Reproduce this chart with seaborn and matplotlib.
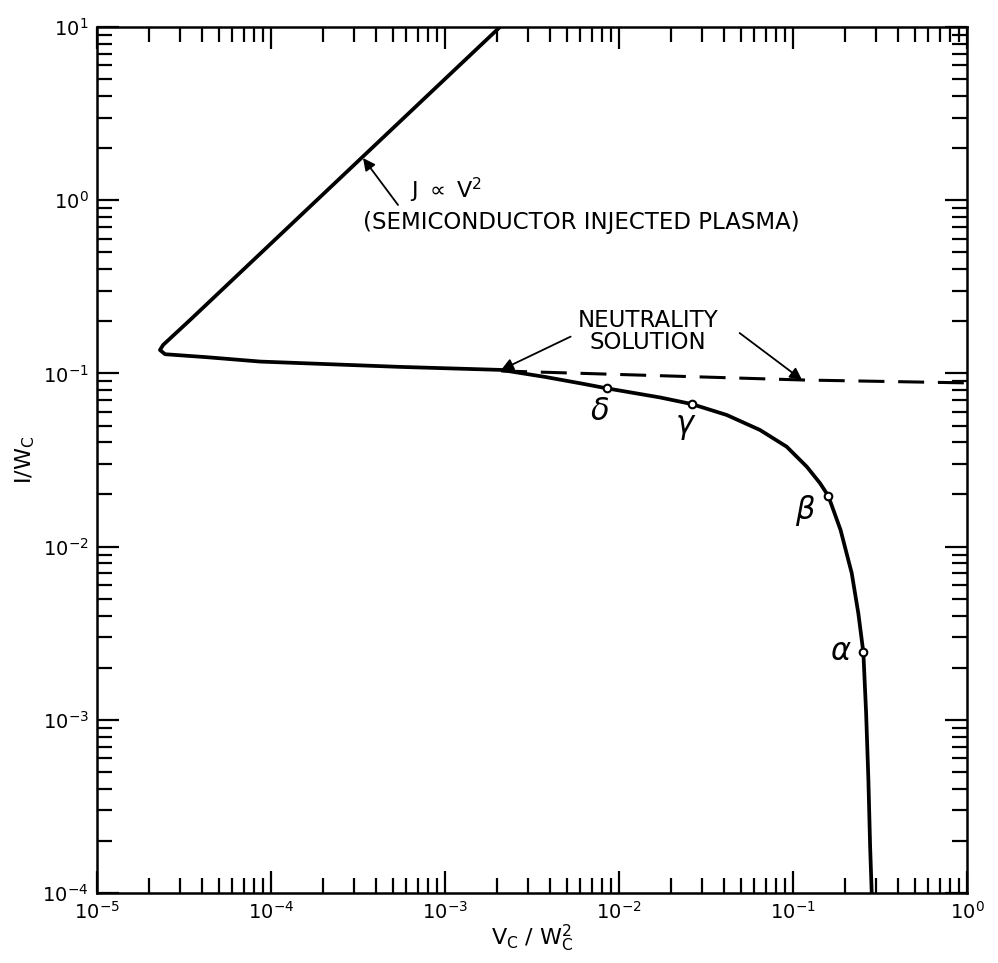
import numpy as np
import pandas as pd
import matplotlib
matplotlib.use("Agg")
import matplotlib.pyplot as plt
import seaborn as sns
from matplotlib.ticker import LogLocator, NullFormatter

sns.set_theme(style="ticks")
plt.rcParams['font.family'] = ['DejaVu Sans']
plt.rcParams['mathtext.fontset'] = 'dejavusans'
for k in ("text.color", "axes.labelcolor", "xtick.color", "ytick.color", "axes.edgecolor"):
    plt.rcParams[k] = "black"

# curva principal (ramo J ~ V^2 + ramo inferior)
curva_v = [2.07e-3, 3.42e-5, 2.40e-5, 2.30e-5, 2.46e-5, 4.27e-5, 8.65e-5, 5.51e-4,
           2.10e-3, 3.78e-3, 6.08e-3, 8.49e-3, 1.722e-2, 2.62e-2, 4.16e-2, 6.46e-2,
           9.20e-2, 0.120, 0.143, 0.1595, 0.1875, 0.2174, 0.2372, 0.2535,
           0.263, 0.271, 0.2773, 0.2832]
curva_i = [10.0, 0.203, 0.146, 0.1365, 0.129, 0.124, 0.117, 0.109,
           0.1047, 0.0953, 0.0874, 0.0820, 0.0726, 0.0665, 0.0575, 0.0471,
           0.0377, 0.0289, 0.0232, 0.0196, 0.01247, 0.00702, 0.00412, 0.00245,
           1.09e-3, 4.49e-4, 1.85e-4, 1.0e-4]

# solução de neutralidade (tracejada)
neutro_v = [2.10e-3, 0.1127, 1.0]
neutro_i = [0.1033, 0.0916, 0.0881]

# pontos marcados
pontos_nome = [r"$\alpha$", r"$\beta$", r"$\gamma$", r"$\delta$"]
pontos_v = [0.2535, 0.1595, 0.0262, 8.49e-3]
pontos_i = [0.00245, 0.0196, 0.0665, 0.0820]

df_curva = pd.DataFrame({"v": curva_v, "i": curva_i})
df_neutro = pd.DataFrame({"v": neutro_v, "i": neutro_i})
df_pontos = pd.DataFrame({"v": pontos_v, "i": pontos_i, "nome": pontos_nome})

fig = plt.figure(figsize=(9.98, 9.63), dpi=100)
ax = fig.add_axes([0.0972, 0.0727, 0.8718, 0.8993])

sns.lineplot(data=df_curva, x="v", y="i", sort=False, estimator=None,
             color="black", linewidth=2.7, ax=ax,
             solid_joinstyle="round", solid_capstyle="round")
sns.lineplot(data=df_neutro, x="v", y="i", sort=False, estimator=None,
             color="black", linewidth=2.2, ax=ax,
             linestyle=(0, (8.5, 4.5)))
sns.scatterplot(data=df_pontos, x="v", y="i", marker="o", s=30,
                facecolor="white", edgecolor="black", linewidth=1.5,
                zorder=5, ax=ax)

ax.set_xscale("log")
ax.set_yscale("log")
ax.set_xlim(1e-5, 1.0)
ax.set_ylim(1e-4, 10)

for eixo in (ax.xaxis, ax.yaxis):
    eixo.set_major_locator(LogLocator(base=10, numticks=10))
    eixo.set_minor_locator(LogLocator(base=10, subs=np.arange(2, 10), numticks=10))
    eixo.set_minor_formatter(NullFormatter())

ax.tick_params(which="both", direction="in", top=True, right=True,
               width=1.6, labelsize=14)
ax.tick_params(which="major", length=16)
ax.tick_params(which="minor", length=11)
ax.tick_params(axis="x", which="major", pad=6)
ax.tick_params(axis="y", which="major", pad=6)
for sp in ax.spines.values():
    sp.set_linewidth(1.8)

ax.set_xlabel(r"V$_\mathrm{C}$ / W$_\mathrm{C}^{2}$", fontsize=16, labelpad=0)
ax.set_ylabel(r"I/W$_\mathrm{C}$", fontsize=16, labelpad=4)

# rótulos dos pontos (posições)
rotulos_pos = {r"$\alpha$": (0.1877, 0.00247), r"$\beta$": (0.1183, 0.01626),
               r"$\gamma$": (0.0242, 0.0484), r"$\delta$": (7.73e-3, 0.0601)}
for nome, (xv, yv) in rotulos_pos.items():
    ax.text(xv, yv, nome, fontsize=22, ha="center", va="center")

seta = dict(arrowstyle="-|>", color="black", lw=1.3, mutation_scale=18,
            shrinkA=0, shrinkB=0)

# anotações
ax.annotate("", xy=(3.38e-4, 1.75), xytext=(5.37e-4, 0.938), arrowprops=seta)
ax.text(6.3e-4, 1.145, r"J $\propto$ V$^2$", fontsize=16, ha="left", va="center")
ax.text(3.38e-4, 0.739, "(SEMICONDUCTOR INJECTED PLASMA)", fontsize=16.5,
        ha="left", va="center")

ax.text(1.469e-2, 0.203, "NEUTRALITY", fontsize=16.5, ha="center", va="center")
ax.text(1.469e-2, 0.150, "SOLUTION", fontsize=16.5, ha="center", va="center")
ax.annotate("", xy=(2.10e-3, 0.1047), xytext=(5.27e-3, 0.163), arrowprops=seta)
ax.annotate("", xy=(0.1127, 0.0916), xytext=(0.0493, 0.171), arrowprops=seta)

fig.savefig("out.png", dpi=100, facecolor="white")
